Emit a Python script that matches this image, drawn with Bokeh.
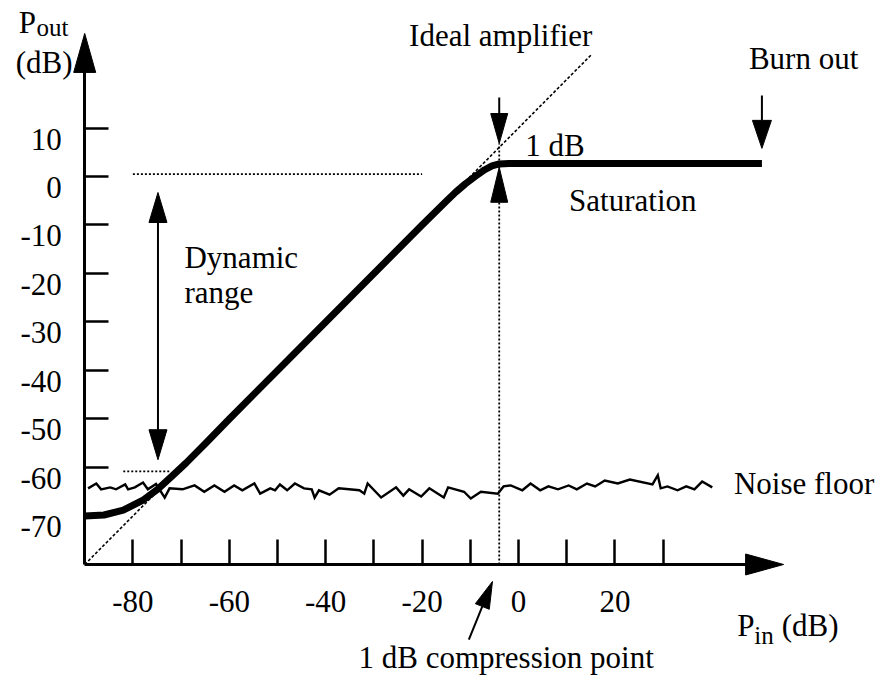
import math
from bokeh.plotting import figure
from bokeh.models import Range1d, LinearAxis, FixedTicker, Label
from bokeh.embed import file_html
from bokeh.resources import INLINE

# ---- data -------------------------------------------------------------
# amplifier transfer characteristic, Pin (dB) -> Pout (dB)
amp_in = [-90, -86, -82, -78, -75, -72, -69, -65, -60, -40, -20, -15, -13, -11,
          -9, -7, -5.5, -4, -2, 0, 50.5]
amp_out = [-70, -69.8, -68.8, -66.8, -64.6, -61.9, -59.1, -55.1, -50, -30, -10,
           -5.1, -3.2, -1.5, 0.0, 1.4, 2.2, 2.6, 2.7, 2.7, 2.7]

# ideal (linear, 10 dB gain) amplifier
ideal_in = [-90, 15.3]
ideal_out = [-80, 25.3]

# noise floor
noise_in = [-89.3, -87.6, -86.6, -84.7, -83.5, -81.6, -81.0, -79.6, -77.9, -76.9,
            -75.2, -73.4, -72.4, -69.7, -67.2, -65.2, -63.1, -61.0, -59.0, -57.3,
            -54.8, -53.6, -51.5, -50.5, -49.5, -48.0, -46.4, -44.5, -42.9, -42.3,
            -41.4, -39.2, -37.3, -33.0, -32.0, -31.3, -28.5, -25.4, -23.9, -22.7,
            -20.2, -18.5, -15.5, -14.6, -11.3, -9.9, -7.8, -4.3, -3.1, -1.6,
            0.8, 2.5, 4.5, 6.2, 8.2, 10.4, 12.1, 14.2, 15.9, 17.9,
            20.6, 23.1, 27.8, 28.9, 29.5, 30.9, 33.0, 34.8, 36.5, 38.1,
            40.2]
noise_out = [-64.3, -63.3, -64.5, -64.1, -64.5, -63.5, -64.5, -64.1, -63.1, -64.5,
             -63.4, -66.2, -64.3, -64.5, -63.7, -65.0, -63.7, -65.0, -63.7, -64.7,
             -63.3, -65.4, -64.3, -64.7, -63.5, -64.7, -63.3, -64.3, -64.5, -66.2,
             -64.7, -65.6, -64.3, -64.7, -65.4, -63.3, -66.2, -64.1, -65.8, -64.5,
             -66.0, -64.3, -66.2, -64.1, -65.0, -66.4, -65.0, -65.4, -63.9, -63.7,
             -64.7, -63.3, -64.7, -63.9, -64.5, -63.7, -64.5, -63.3, -63.9, -62.7,
             -63.3, -62.5, -63.5, -61.6, -64.3, -63.9, -64.7, -63.9, -64.5, -62.9,
             -64.1]

# axes
x_labeled_ticks = [-80, -60, -40, -20, 0, 20]
x_plain_ticks = [-70, -50, -30, -10, 10, 30]
y_ticks = [10, 0, -10, -20, -30, -40, -50, -60, -70]
x_origin, y_origin = -90, -80
x_axis_tip, y_axis_tip = 55, 29.5

# key levels
compression_in = -4          # 1 dB compression point
burnout_in = 50.5            # burn-out input level
dyn_in = -74.8               # where the dynamic-range arrow sits
dyn_top, dyn_bottom = -3.3, -58.4
level_top = 0.5              # top of dynamic range
level_bottom = -60.8         # bottom of dynamic range

# ---- figure -----------------------------------------------------------
W, H = 885, 675
X0, X1 = -107.47, 76.14
Y0, Y1 = -102.89, 36.29
SX = W / (X1 - X0)
SY = H / (Y1 - Y0)
FONT = "Liberation Serif"
FS = "31px"

p = figure(width=W, height=H, x_range=Range1d(X0, X1), y_range=Range1d(Y0, Y1),
           output_backend="svg", toolbar_location=None,
           x_axis_location=None, y_axis_location=None,
           min_border=0, outline_line_color=None)
p.grid.visible = False
p.background_fill_color = "white"
p.border_fill_color = "white"


def head(tail, tip, length, width):
    """Triangular arrow head (pixel-sized) pointing from tail to tip."""
    dx = (tip[0] - tail[0]) * SX
    dy = (tip[1] - tail[1]) * SY
    n = math.hypot(dx, dy)
    ux, uy = dx / n, dy / n
    bx = tip[0] * SX - ux * length
    by = tip[1] * SY - uy * length
    qx, qy = -uy * width / 2, ux * width / 2
    xs = [tip[0], (bx + qx) / SX, (bx - qx) / SX]
    ys = [tip[1], (by + qy) / SY, (by - qy) / SY]
    return xs, ys, (bx / SX, by / SY)


# axis arrow heads
xh_xs, xh_ys, xh_base = head((x_origin, y_origin), (x_axis_tip, y_origin), 38, 21)
yh_xs, yh_ys, yh_base = head((x_origin, y_origin), (x_origin, y_axis_tip), 39, 22)

xax = LinearAxis(ticker=FixedTicker(ticks=x_labeled_ticks, minor_ticks=x_plain_ticks),
                 fixed_location=y_origin, bounds=(x_origin, xh_base[0] + 0.5))
xax.axis_line_width = 3
xax.major_tick_in = 25
xax.major_tick_out = 0
xax.minor_tick_in = 25
xax.minor_tick_out = 0
xax.major_tick_line_width = 2.5
xax.minor_tick_line_width = 2.5
xax.major_label_standoff = 27
xax.major_label_text_font = FONT
xax.major_label_text_font_size = FS
xax.major_label_text_color = "black"
xax.major_label_overrides = {v: str(v) for v in x_labeled_ticks}
p.add_layout(xax, "below")

yax = LinearAxis(ticker=FixedTicker(ticks=y_ticks), fixed_location=x_origin,
                 bounds=(y_origin, yh_base[1] + 0.5))
yax.axis_line_width = 3
yax.major_tick_in = 24
yax.major_tick_out = 0
yax.minor_tick_line_color = None
yax.major_tick_line_width = 2.5
yax.major_label_text_color = None
p.add_layout(yax, "left")

# tick labels sit a little below their ticks
shift = 11 / SY
p.extra_y_ranges = {"labels": Range1d(Y0 + shift, Y1 + shift)}
ylab = LinearAxis(ticker=FixedTicker(ticks=y_ticks), fixed_location=x_origin,
                  y_range_name="labels")
ylab.axis_line_color = None
ylab.major_tick_line_color = None
ylab.minor_tick_line_color = None
ylab.major_tick_in = 0
ylab.major_tick_out = 0
ylab.major_label_standoff = 23
ylab.major_label_text_font = FONT
ylab.major_label_text_font_size = FS
ylab.major_label_text_color = "black"
ylab.major_label_overrides = {v: str(v) for v in y_ticks}
p.add_layout(ylab, "left")

# ideal amplifier and reference levels
p.line(ideal_in, ideal_out, line_color="black", line_width=1.6, line_dash="3 2")
p.line([-80, -20], [level_top, level_top], line_color="black", line_width=1.6,
       line_dash="2 2")
p.line([-82, -72.4], [level_bottom, level_bottom], line_color="black",
       line_width=1.6, line_dash="2 2")
p.line([compression_in, compression_in], [y_origin, 6.8], line_color="black",
       line_width=1.8, line_dash="2 2")

# noise floor and amplifier response
p.line(noise_in, noise_out, line_color="black", line_width=2.4, line_join="miter")
p.line(amp_in, amp_out, line_color="black", line_width=7, line_cap="butt",
       line_join="round")

# annotation arrows: (tail, tip, head length px, head width px, shaft?)
arrows = [
    ((x_origin, y_origin), (x_axis_tip, y_origin), 38, 21, False),
    ((x_origin, y_origin), (x_origin, y_axis_tip), 39, 22, False),
    ((dyn_in, -30), (dyn_in, dyn_top), 30, 18, True),
    ((dyn_in, -30), (dyn_in, dyn_bottom), 30, 18, True),
    ((compression_in, 16.3), (compression_in, 6.8), 30, 17, True),
    ((compression_in, -20), (compression_in, 1.9), 35, 17, False),
    ((burnout_in, 16.7), (burnout_in, 5.8), 28, 19, True),
    ((-10.3, -95.5), (-5.4, -83.5), 27, 15, True),
]
hx, hy = [], []
sx0, sy0, sx1, sy1 = [], [], [], []
for tail, tip, hl, hw, shaft in arrows:
    xs, ys, base = head(tail, tip, hl, hw)
    hx.append(xs)
    hy.append(ys)
    if shaft:
        sx0.append(tail[0]); sy0.append(tail[1])
        sx1.append(base[0]); sy1.append(base[1])
p.segment(sx0, sy0, sx1, sy1, line_color="black", line_width=2)
p.patches(hx, hy, fill_color="black", line_color="black", line_width=1)

# ---- texts ------------------------------------------------------------
def label(x, y, text, size=FS):
    p.add_layout(Label(x=x, y=y, y_offset=10, text=text, text_font=FONT,
                       text_font_size=size, text_color="black",
                       text_align="left", text_baseline="alphabetic"))


label(-103.7, 29.7, "P")
label(-100.0, 28.7, "out", "25px")
label(-104.3, 21.4, "(dB)")
label(45.4, -94.6, "P")
label(48.9, -96.7, "in", "25px")
label(54.6, -94.6, "(dB)")
label(-22.7, 27.0, "Ideal amplifier")
label(47.8, 22.3, "Burn out")
label(1.4, 4.3, "1 dB")
label(10.5, -7.0, "Saturation")
label(-69.3, -18.8, "Dynamic")
label(-69.3, -26.0, "range")
label(44.7, -65.4, "Noise floor")
label(-33.2, -101.2, "1 dB compression point")

open("out.html", "w").write(file_html(p, INLINE))
